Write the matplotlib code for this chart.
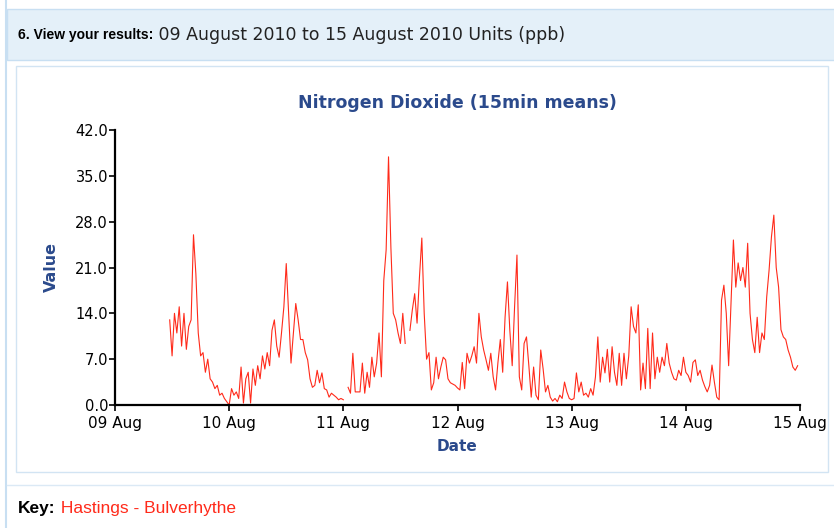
import numpy as np
import pandas as pd
import matplotlib
matplotlib.use('Agg')
import matplotlib.pyplot as plt
import matplotlib.dates as mdates
from matplotlib.patches import Rectangle

nan = np.nan

# half-hourly NO2 readings (ppb)
aug09 = [13, 7.5, 14, 11, 15, 9, 14, 8.5, 12, 13, 26, 20, 11, 7.5, 8, 5, 7, 4,
         3.5, 2.5, 3, 1.5, 1.8, 1, 0.5]
aug10 = [0, 2.5, 1.5, 2, 1, 5.8, 0.3, 4, 5, 0.3, 5.5, 3, 6, 4, 7.5, 5.5, 8, 6,
         11.4, 13, 9, 7.3, 11, 15, 21.6, 14, 6.4, 11, 15.5, 13, 10, 10, 8, 6.9,
         4, 2.7, 3, 5.3, 3.4, 4.9, 2.5, 2.3, 1.2, 1.8, 1.5, 1.2, 0.8, 1]
aug11 = [0.8, nan, 2.7, 1.8, 7.9, 2, 2, 2, 6.4, 1.8, 5, 2.7, 7.3, 4.3, 6.4, 11,
         4.3, 19, 23.7, 37.9, 24, 14, 13, 11, 9.4, 14, 9.4, nan, 11.4, 14.5, 17,
         12.5, 19.5, 25.5, 14, 7, 8, 2.3, 3.4, 7.3, 4, 5.8, 7.3, 6.9, 4, 3.4,
         3.2, 3]
aug12 = [2.6, 2.3, 6.5, 2.5, 7.9, 6.4, 7.5, 8.9, 6.4, 14, 10.4, 8.4, 6.9, 5.3,
         7.9, 4.3, 2.3, 6.5, 10, 5, 13.4, 18.8, 11.4, 6, 15, 22.9, 4.3, 2.3, 9.4,
         10.4, 6, 1.2, 5.8, 1.5, 0.8, 8.4, 5.5, 2, 3, 1.2, 0.6, 1, 0.5, 1.5, 1,
         3.5, 2, 1]
aug13 = [0.8, 1, 4.9, 2, 3.5, 1.5, 1.8, 1.2, 2.5, 1.5, 4.3, 10.4, 3.5, 7.3, 4.9,
         8.5, 3.5, 8.9, 5, 3, 7.9, 3, 7.9, 4, 7.5, 15, 12, 11, 15.3, 2.3, 6.4,
         2.5, 11.7, 2.5, 11, 4, 7.3, 5, 7.3, 6, 9.4, 6.4, 5, 4, 3.8, 5.3, 4.5,
         7.3]
aug14 = [5, 4.5, 3.5, 6.5, 6.9, 4.5, 5.3, 3.8, 2.8, 2, 3, 6.1, 3.5, 1.2, 0.8,
         16, 18.3, 14, 6, 15.5, 25.2, 18, 21.7, 19, 21, 18, 24.7, 14, 10, 8,
         13.4, 8, 11, 10, 16.5, 20.6, 25.7, 29, 21, 18, 11.5, 10.4, 10, 8.4,
         7.3, 5.8, 5.3, 6]

values = aug09 + aug10 + aug11 + aug12 + aug13 + aug14
times = pd.date_range('2010-08-09 11:30', periods=len(values), freq='30min')

yticks = [0, 7, 14, 21, 28, 35, 42]

W, H = 834, 528
plt.rcParams['font.family'] = ['DejaVu Sans']
fig = plt.figure(figsize=(W / 100, H / 100), dpi=100)


def box(x0, y0, x1, y1, fc, ec):
    fig.patches.append(Rectangle((x0 / W, 1 - y1 / H), (x1 - x0) / W, (y1 - y0) / H,
                                 transform=fig.transFigure, fc=fc, ec=ec, lw=1,
                                 zorder=-2))


# page decoration
fig.add_artist(plt.Line2D([6 / W, 6 / W], [0, 1], color='#c8dff2', lw=1.5, zorder=-2))
box(7, 9, 836, 60, '#e4f0f9', '#c8dff2')
box(16, 66, 828, 472, 'white', '#d2e4f3')
fig.add_artist(plt.Line2D([7 / W, 1], [1 - 485 / H] * 2, color='#dbe9f5', lw=1,
                          zorder=-2))

hdr = fig.text(18 / W, 1 - 35 / H, '6. View your results:', fontsize=10,
               fontweight='bold', va='center', family='Liberation Sans')
fig.add_artist(plt.Annotation(' 09 August 2010 to 15 August 2010 Units (ppb)',
                              xy=(1, 0.5), xycoords=hdr, va='center', fontsize=12.5,
                              color='#222222', family='DejaVu Sans'))
key = fig.text(18 / W, 1 - 508 / H, 'Key:', fontsize=12.5, fontweight='bold',
               va='center', family='Liberation Sans')
fig.add_artist(plt.Annotation(' Hastings - Bulverhythe', xy=(1, 0.5), xycoords=key,
                              va='center', fontsize=12.5, color='#ff2a1a',
                              family='Liberation Sans'))

ax = fig.add_axes([115 / W, 123 / H, 685 / W, 275 / H])
ax.plot(times, values, color='#ff2a1a', lw=0.8)
ax.set_xlim(pd.Timestamp('2010-08-09'), pd.Timestamp('2010-08-15'))
ax.set_ylim(0, 42)
ax.set_yticks(yticks)
ax.set_yticklabels(['%.1f' % v for v in yticks])
ax.xaxis.set_major_locator(mdates.DayLocator())
ax.xaxis.set_major_formatter(mdates.DateFormatter('%d %b'))
ax.spines['top'].set_visible(False)
ax.spines['right'].set_visible(False)
ax.spines['left'].set_linewidth(1.6)
ax.spines['bottom'].set_linewidth(1.6)
ax.tick_params(labelsize=11, length=4, width=1.2)
ax.tick_params(axis='y', pad=1, labelsize=10.5)
ax.tick_params(axis='x', pad=4)
ax.set_title('Nitrogen Dioxide (15min means)', fontsize=12.5, fontweight='bold',
             color='#2b4a8c', pad=16)
ax.set_ylabel('Value', fontsize=11.5, fontweight='bold', color='#2b4a8c', labelpad=12)
ax.set_xlabel('Date', fontsize=11, fontweight='bold', color='#2b4a8c', labelpad=6)

fig.savefig('out.png', dpi=100)
